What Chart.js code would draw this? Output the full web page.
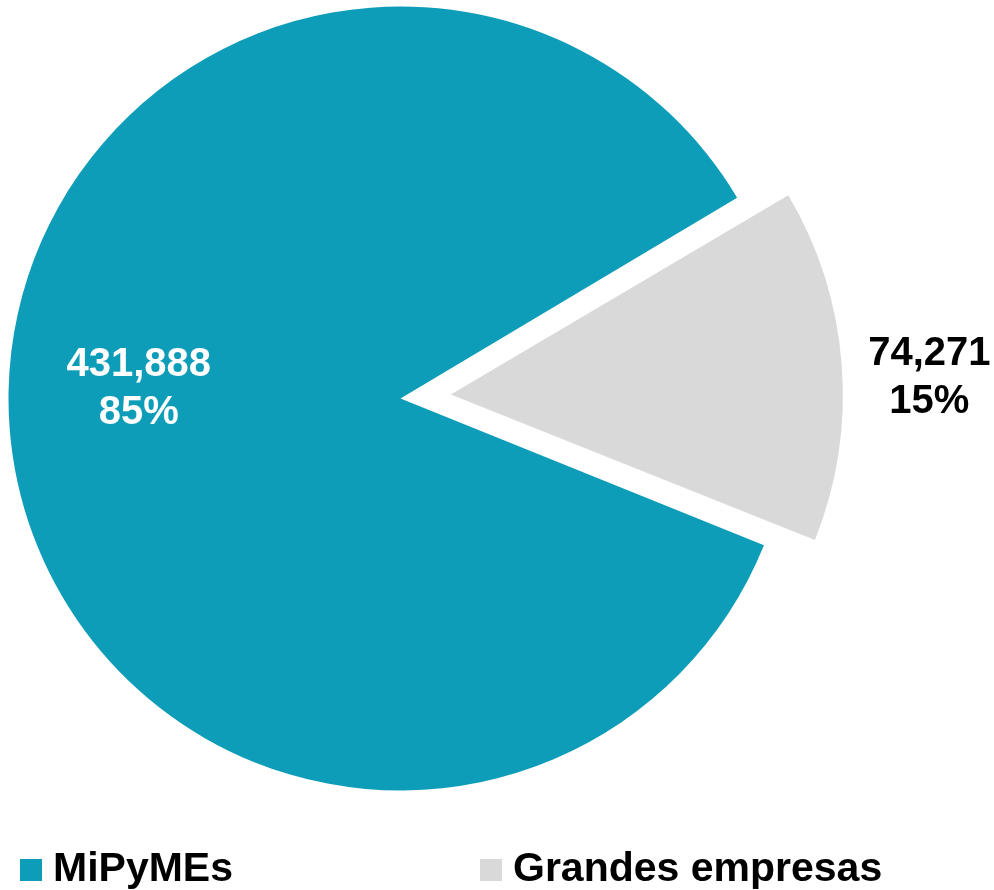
<!DOCTYPE html>
<html>
<head>
<meta charset="utf-8">
<script src="https://cdn.jsdelivr.net/npm/chart.js@4.4.1/dist/chart.umd.min.js"></script>
<style>
  body { margin: 0; background: #fff; }
  .wrap { position: relative; width: 994px; height: 890px; overflow: hidden; }
  .legend {
    position: absolute; left: 20px; top: 847px;
    display: flex;
    font-family: "Liberation Sans", Arial, sans-serif; font-weight: bold; font-size: 41px; line-height: 41px;
    color: #000;
  }
  .legend__item { display: flex; align-items: flex-start; width: 460px; }
  .legend__box { width: 22px; height: 22px; margin-top: 12px; margin-right: 11px; }
</style>
</head>
<body>
<div class="wrap">
  <canvas id="pie_empresas"></canvas>
  <div class="legend" id="legend"></div>
</div>
<script>
const categories = ['MiPyMEs', 'Grandes empresas'];
const empresas = [431888, 74271];
const colors = ['#0E9DB8', '#D9D9D9'];
const labelColors = ['#FFFFFF', '#000000'];

const PIE_R = 392;
const EXPLODE = [0, 202];

// Chart.js grows the outer radius of an offset slice, pull it back to the real radius
const explodeFix = {
  id: 'explodeFix',
  afterUpdate(chart) {
    const meta = chart.getDatasetMeta(0);
    meta.data.forEach((arc, i) => {
      const off = (EXPLODE[i] || 0) / 4;
      const circ = arc.endAngle - arc.startAngle;
      const fix = 1 - Math.sin(Math.min(Math.PI, circ));
      arc.outerRadius = PIE_R - off * fix;
    });
  }
};

// value + percentage labels (no datalabels plugin offline)
const pieLabels = {
  id: 'pieLabels',
  afterDatasetsDraw(chart, args, opts) {
    const ctx = chart.ctx;
    const meta = chart.getDatasetMeta(0);
    const data = chart.data.datasets[0].data;
    const total = data.reduce((a, b) => a + b, 0);
    ctx.save();
    ctx.font = 'bold 40px "Liberation Sans", Arial, sans-serif';
    ctx.textAlign = 'center';
    ctx.textBaseline = 'middle';
    meta.data.forEach((arc, i) => {
      const p = opts.pos[i];
      const mid = (arc.startAngle + arc.endAngle) / 2 + p[1] * Math.PI / 180;
      const r = PIE_R * p[0];
      const x = arc.x + Math.cos(mid) * r;
      const y = arc.y + Math.sin(mid) * r;
      ctx.fillStyle = labelColors[i];
      ctx.fillText(data[i].toLocaleString('en-US'), x, y - 24);
      ctx.fillText(Math.round(data[i] / total * 100) + '%', x, y + 24);
    });
    ctx.restore();
  }
};

const ctx = document.getElementById('pie_empresas');
const chart = new Chart(ctx, {
  type: 'pie',
  data: {
    labels: categories,
    datasets: [{
      data: empresas,
      backgroundColor: colors,
      borderWidth: 0,
      offset: EXPLODE
    }]
  },
  options: {
    responsive: true,
    maintainAspectRatio: false,
    animation: false,
    rotation: 112,
    radius: PIE_R,
    layout: { padding: { left: 0, top: 0, right: 193, bottom: 93 } },
    plugins: {
      legend: { display: false },
      tooltip: { enabled: false },
      pieLabels: { pos: [[0.668, 6.4], [1.35, 2.2]] }
    }
  },
  plugins: [explodeFix, pieLabels]
});

// legend
const legend = document.getElementById('legend');
categories.forEach((name, i) => {
  const item = document.createElement('div');
  item.className = 'legend__item';
  item.innerHTML = '<span class="legend__box" style="background:' + colors[i] + '"></span><span>' + name + '</span>';
  legend.appendChild(item);
});
</script>
</body>
</html>
